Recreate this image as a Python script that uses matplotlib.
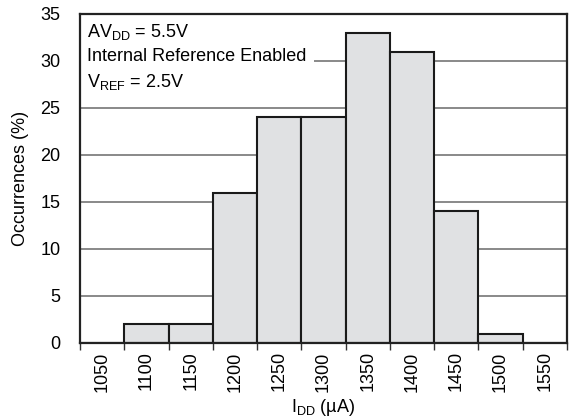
import matplotlib
matplotlib.use('Agg')
import matplotlib.pyplot as plt
import numpy as np

plt.rcParams['font.family'] = ['Liberation Sans', 'DejaVu Sans']
plt.rcParams['mathtext.fontset'] = 'custom'
plt.rcParams['mathtext.rm'] = 'Liberation Sans'
plt.rcParams['mathtext.it'] = 'Liberation Sans:italic'

bins = ['1050', '1100', '1150', '1200', '1250', '1300',
        '1350', '1400', '1450', '1500', '1550']
occurrences = [0, 2, 2, 16, 24, 24, 33, 31, 14, 1, 0]

fig = plt.figure(figsize=(5.7, 4.19), dpi=100)
ax = fig.add_axes([0.1404, 0.1814, 0.8543, 0.7852])

x = np.arange(len(bins))
ax.bar(x, occurrences, width=1.0, color='#e0e1e3', edgecolor='#1a1a1a',
       linewidth=1.5, zorder=3)

ax.set_xlim(-0.5, len(bins) - 0.5)
ax.set_ylim(0, 35)

# labels sit in the middle of each bin, tick marks on the bin edges
ax.set_xticks(x)
ax.set_xticklabels(bins, rotation=90, fontsize=13)
ax.tick_params(axis='x', which='major', length=0, pad=6)
ax.set_xticks(np.arange(-0.5, len(bins) + 0.5, 1), minor=True)
ax.tick_params(axis='x', which='minor', length=5, width=1, color='#333333',
               direction='out')

ax.set_yticks(range(0, 36, 5))
ax.tick_params(axis='y', length=0, pad=14, labelsize=13)

for y in range(5, 35, 5):
    ax.axhline(y, color='#808080', linewidth=1.3, zorder=1)

for s in ax.spines.values():
    s.set_linewidth(1.6)
    s.set_color('#222222')
    s.set_zorder(4)

ax.set_ylabel('Occurrences (%)', fontsize=13, labelpad=8)
ax.set_xlabel('I$_{\\mathrm{DD}}$ (µA)', fontsize=13, labelpad=4)

ax.text(0.015, 0.975,
        'AV$_{\\mathrm{DD}}$ = 5.5V\nInternal Reference Enabled\nV$_{\\mathrm{REF}}$ = 2.5V',
        transform=ax.transAxes, fontsize=13, va='top', ha='left',
        linespacing=1.45, zorder=2,
        bbox=dict(facecolor='white', edgecolor='none', pad=5))

fig.savefig('out.png', dpi=100)
